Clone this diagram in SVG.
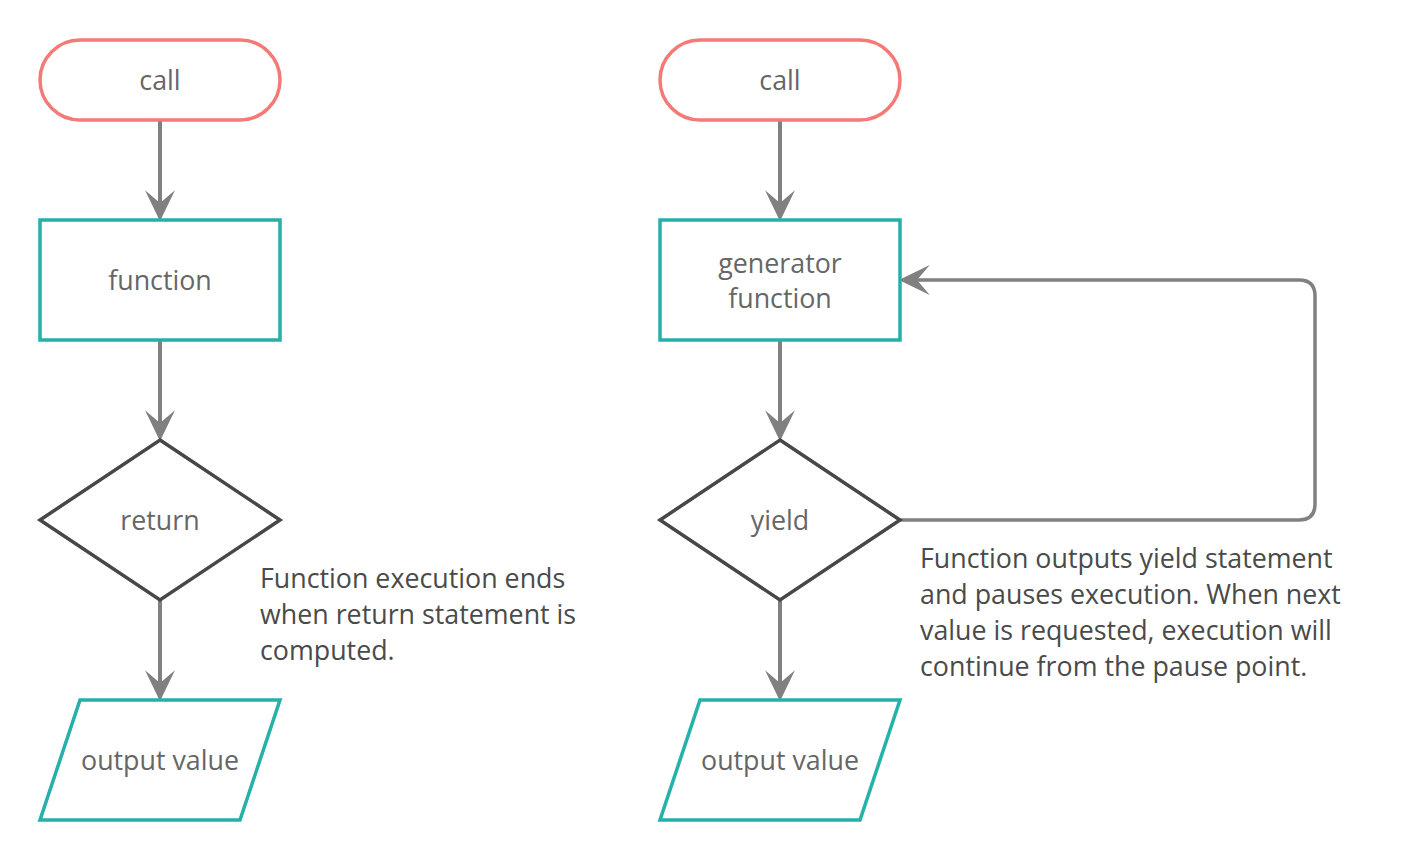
<svg xmlns="http://www.w3.org/2000/svg" width="1420" height="860" viewBox="0 0 1420 860">
<defs>
<style>
.term{fill:#fff;stroke:#f47a77;stroke-width:3.5}
.proc{fill:#fff;stroke:#25b0aa;stroke-width:3.5}
.dec{fill:#fff;stroke:#474747;stroke-width:3.5}
.lbl{font-family:"Open Sans","Noto Sans",sans-serif;font-size:26.8px;fill:#666;text-anchor:middle}
.note{font-family:"Open Sans","Noto Sans",sans-serif;font-size:26.8px;fill:#4a4a4a}
.edge{fill:none;stroke:#808080;stroke-width:4}
</style>
<marker id="arr" markerUnits="userSpaceOnUse" markerWidth="32" markerHeight="32" viewBox="0 0 30 30" refX="12" refY="14" orient="auto">
<path d="M0,0 L29,14 L0,28 L12,14 Z" fill="#808080"/>
</marker>
</defs>
<rect width="1420" height="860" fill="#fff"/>
<g id="connectors">
<path class="edge" d="M160,120 V203" marker-end="url(#arr)"/>
<path class="edge" d="M160,340 V423" marker-end="url(#arr)"/>
<path class="edge" d="M160,600 V683" marker-end="url(#arr)"/>
<path class="edge" d="M780,120 V203" marker-end="url(#arr)"/>
<path class="edge" d="M780,340 V423" marker-end="url(#arr)"/>
<path class="edge" d="M780,600 V683" marker-end="url(#arr)"/>
<path class="edge" style="stroke-width:3.5" d="M900,520 H1299 Q1315,520 1315,504 V296 Q1315,280 1299,280 H917" marker-end="url(#arr)"/>
</g>
<g id="call1">
<rect class="term" x="40" y="40" width="240" height="80" rx="40"/>
<text class="lbl" x="160" y="90">call</text>
</g>
<g id="function1">
<rect class="proc" x="40" y="220" width="240" height="120"/>
<text class="lbl" x="160" y="290">function</text>
</g>
<g id="return1">
<polygon class="dec" points="160,440 280,520 160,600 40,520"/>
<text class="lbl" x="160" y="530">return</text>
</g>
<g id="output1">
<polygon class="proc" points="80,700 280,700 240,820 40,820"/>
<text class="lbl" x="160" y="770">output value</text>
</g>
<g id="note1">
<text class="note" x="260" y="588">Function execution ends</text>
<text class="note" x="260" y="624">when return statement is</text>
<text class="note" x="260" y="660">computed.</text>
</g>
<g id="call2">
<rect class="term" x="660" y="40" width="240" height="80" rx="40"/>
<text class="lbl" x="780" y="90">call</text>
</g>
<g id="generator2">
<rect class="proc" x="660" y="220" width="240" height="120"/>
<text class="lbl" x="780" y="273">generator</text>
<text class="lbl" x="780" y="308">function</text>
</g>
<g id="yield2">
<polygon class="dec" points="780,440 900,520 780,600 660,520"/>
<text class="lbl" x="780" y="530">yield</text>
</g>
<g id="output2">
<polygon class="proc" points="700,700 900,700 860,820 660,820"/>
<text class="lbl" x="780" y="770">output value</text>
</g>
<g id="note2">
<text class="note" x="920" y="568">Function outputs yield statement</text>
<text class="note" x="920" y="604">and pauses execution. When next</text>
<text class="note" x="920" y="640">value is requested, execution will</text>
<text class="note" x="920" y="676">continue from the pause point.</text>
</g>
</svg>
